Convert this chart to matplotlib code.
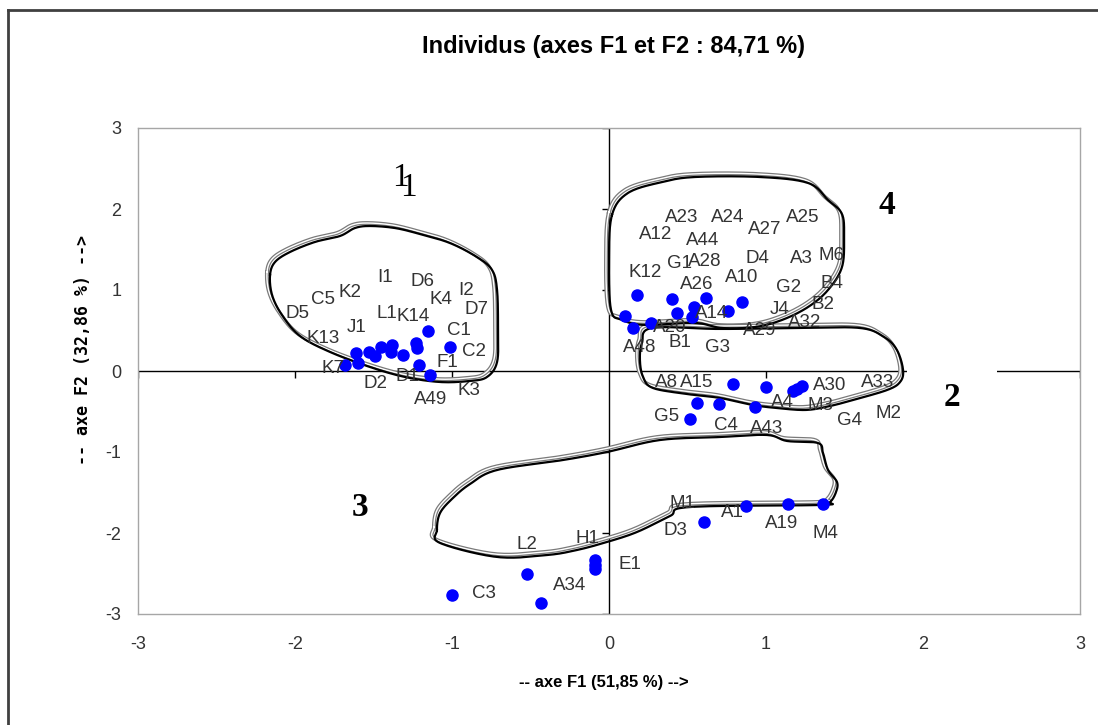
import numpy as np
import matplotlib
matplotlib.use('Agg')
import matplotlib.pyplot as plt
import matplotlib.transforms as mtransforms

plt.rcParams['axes.unicode_minus'] = False

# Scores of the individuals on F1 / F2 (blue dots)
obs_f1 = [-1.68, -1.61, -1.60, -1.53, -1.49, -1.45, -1.39, -1.38, -1.31, -1.23, -1.22, -1.15, -1.01, -1.21, -1.14,
          0.18, 0.10, 0.155, 0.27, 0.40, 0.43, 0.54, 0.53, 0.62, 0.76, 0.845,
          0.79, 1.00, 1.17, 1.20, 1.23, 0.56, 0.70, 0.93, 0.515,
          0.87, 1.14, 1.365, 0.605, -0.09, -0.09, -0.09, -0.52, -1.00, -0.43]
obs_f2 = [0.07, 0.22, 0.10, 0.24, 0.18, 0.30, 0.24, 0.32, 0.20, 0.34, 0.29, 0.49, 0.30, 0.08, -0.05,
          0.94, 0.68, 0.53, 0.59, 0.885, 0.72, 0.79, 0.67, 0.90, 0.745, 0.855,
          -0.16, -0.20, -0.25, -0.22, -0.19, -0.39, -0.41, -0.45, -0.59,
          -1.67, -1.64, -1.64, -1.87, -2.33, -2.40, -2.45, -2.51, -2.77, -2.87]

# Label names and where they sit on the chart (F1, F2)
label_names = ['I1', 'D6', 'I2', 'K2', 'C5', 'K4', 'D7', 'D5', 'L1', 'K14', 'J1', 'C1', 'K13', 'C2', 'F1',
               'K7', 'D1', 'D2', 'K3', 'A49',
               'A23', 'A24', 'A25', 'A27', 'A12', 'A44', 'M6', 'A3', 'D4', 'G1', 'A28', 'K12', 'A10', 'G2',
               'B4', 'A26', 'A14', 'J4', 'B2', 'A32', 'A20', 'A29', 'A48', 'B1', 'G3',
               'A8', 'A15', 'A30', 'A33', 'A4', 'M3', 'G5', 'M2', 'G4', 'C4', 'A43',
               'M1', 'A1', 'A19', 'M4', 'D3', 'H1', 'L2', 'E1', 'A34', 'C3']
label_f1 = [-1.427, -1.185, -0.911, -1.650, -1.822, -1.070, -0.847, -1.981, -1.414, -1.248, -1.605, -0.955,
            -1.822, -0.860, -1.032, -1.758, -1.287, -1.490, -0.892, -1.134,
            0.465, 0.758, 1.236, 0.994, 0.299, 0.599, 1.420, 1.223, 0.943, 0.452, 0.611, 0.229, 0.847, 1.146,
            1.420, 0.561, 0.656, 1.089, 1.363, 1.248, 0.389, 0.962, 0.197, 0.452, 0.694,
            0.369, 0.561, 1.408, 1.713, 1.102, 1.344, 0.369, 1.783, 1.535, 0.745, 1.006,
            0.465, 0.783, 1.102, 1.376, 0.420, -0.140, -0.522, 0.134, -0.248, -0.796]
label_f2 = [1.160, 1.099, 0.988, 0.963, 0.877, 0.877, 0.765, 0.716, 0.716, 0.679, 0.531, 0.494,
            0.407, 0.235, 0.099, 0.037, -0.074, -0.160, -0.235, -0.358,
            1.901, 1.901, 1.901, 1.753, 1.691, 1.605, 1.432, 1.383, 1.383, 1.321, 1.346, 1.210, 1.160, 1.037,
            1.086, 1.062, 0.704, 0.765, 0.815, 0.593, 0.543, 0.506, 0.296, 0.346, 0.296,
            -0.136, -0.136, -0.173, -0.148, -0.383, -0.432, -0.556, -0.519, -0.605, -0.667, -0.704,
            -1.630, -1.753, -1.877, -2.000, -1.963, -2.062, -2.136, -2.395, -2.654, -2.741]

# Hand-drawn group outlines (F1, F2)
group1_f1 = [-2.159, -2.127, -2.032, -1.873, -1.713, -1.618, -1.522, -1.363, -1.204, -1.013, -0.841, -0.745,
             -0.713, -0.707, -0.713, -0.777, -0.885, -1.076, -1.299, -1.522, -1.777, -1.968, -2.083, -2.146]
group1_f2 = [1.185, 1.346, 1.469, 1.593, 1.667, 1.765, 1.790, 1.765, 1.691, 1.580, 1.407, 1.247,
             1.000, 0.506, 0.111, -0.074, -0.123, -0.136, -0.074, 0.049, 0.235, 0.432, 0.691, 0.938]
group4_f1 = [0.019, 0.121, 0.338, 0.548, 0.962, 1.268, 1.395, 1.484, 1.497, 1.484, 1.395, 1.268, 1.102,
             0.930, 0.720, 0.548, 0.229, 0.083, 0.013, 0.000]
group4_f2 = [1.926, 2.198, 2.333, 2.395, 2.395, 2.321, 2.111, 1.938, 1.654, 1.284, 1.000, 0.790, 0.630,
             0.543, 0.531, 0.593, 0.568, 0.630, 0.753, 1.370]
group2_f1 = [0.274, 0.707, 1.217, 1.599, 1.752, 1.834, 1.873, 1.854, 1.771, 1.554, 1.408, 1.255, 1.070,
             0.917, 0.707, 0.497, 0.280, 0.217, 0.197, 0.210]
group2_f2 = [0.531, 0.519, 0.531, 0.531, 0.420, 0.259, 0.012, -0.136, -0.235, -0.358, -0.432, -0.481, -0.457,
             -0.420, -0.333, -0.284, -0.210, -0.074, 0.136, 0.346]
group3_f1 = [-1.096, -1.076, -0.994, -0.885, -0.713, -0.293, -0.013, 0.325, 0.707, 1.006, 1.134, 1.331, 1.363,
             1.395, 1.452, 1.446, 1.408, 1.344, 0.516, 0.389, 0.178, -0.013, -0.204, -0.395, -0.713, -1.076]
group3_f2 = [-1.963, -1.753, -1.568, -1.395, -1.222, -1.099, -1.000, -0.852, -0.815, -0.790, -0.864, -0.889,
             -1.012, -1.222, -1.370, -1.494, -1.617, -1.654, -1.679, -1.790, -1.988, -2.111, -2.210, -2.272,
             -2.296, -2.123]

group_names = ['1', '1', '4', '2', '3']
group_f1 = [-1.331, -1.280, 1.771, 2.185, -1.586]
group_f2 = [2.383, 2.259, 2.049, -0.321, -1.691]

ticks = [-3, -2, -1, 0, 1, 2, 3]

TXT = '#333333'


def closed_curve(xs, ys, n=16):
    """Smooth closed Catmull-Rom curve through the outline vertices."""
    p = np.column_stack([xs, ys])
    k = len(p)
    t = np.linspace(0, 1, n, endpoint=False)[:, None]
    segs = []
    for i in range(k):
        p0, p1, p2, p3 = p[i - 1], p[i], p[(i + 1) % k], p[(i + 2) % k]
        segs.append(0.5 * (2 * p1 + (p2 - p0) * t + (2 * p0 - 5 * p1 + 4 * p2 - p3) * t ** 2
                           + (3 * p1 - p0 - 3 * p2 + p3) * t ** 3))
    out = np.vstack(segs + [segs[0][:1]])
    return out[:, 0], out[:, 1]


fig = plt.figure(figsize=(10.98, 7.25), dpi=100)
ax = fig.add_axes([138 / 1098, 1 - 614 / 725, 942 / 1098, 486 / 725])

ax.set_xlim(-3, 3)
ax.set_ylim(-3, 3)
ax.set_xticks(ticks)
ax.set_yticks(ticks)
ax.tick_params(axis='x', length=0, pad=16, labelsize=13, labelcolor=TXT)
ax.tick_params(axis='y', length=0, pad=12, labelsize=13, labelcolor=TXT)
for lab in ax.get_xticklabels() + ax.get_yticklabels():
    lab.set_family('Liberation Sans')
for sp in ax.spines.values():
    sp.set_color('#a6a6a6')
    sp.set_linewidth(1.0)

# axes through the origin with small ticks
ax.axhline(0, color='black', lw=1.0, zorder=1)
ax.axvline(0, color='black', lw=1.0, zorder=1)
ax.plot([t for t in ticks if t != 0], [0] * 6, ls='none', marker=3, ms=5, color='black', mew=1, zorder=1)
ax.plot([0] * 6, [t for t in ticks if t != 0], ls='none', marker=0, ms=5, color='black', mew=1, zorder=1)

# group outlines (black line with a grey double line slightly shifted)
gray_tr = mtransforms.offset_copy(ax.transData, fig=fig, x=-3, y=3, units='dots')
for gx, gy in [(group1_f1, group1_f2), (group4_f1, group4_f2), (group2_f1, group2_f2), (group3_f1, group3_f2)]:
    sx, sy = closed_curve(gx, gy)
    ax.plot(sx, sy, color='#7a7a7a', lw=2.8, transform=gray_tr, zorder=3, solid_joinstyle='round')
    ax.plot(sx, sy, color='white', lw=1.0, transform=gray_tr, zorder=3)
    ax.plot(sx, sy, color='black', lw=1.6, zorder=4, solid_joinstyle='round')

# individuals
ax.plot(obs_f1, obs_f2, ls='none', marker='o', ms=8, color='#0000ff', zorder=5)

for name, x, y in zip(label_names, label_f1, label_f2):
    ax.text(x, y, name, ha='center', va='center', fontsize=13.5, color=TXT,
            family='Liberation Sans', zorder=6)

# group numbers
for name, x, y in zip(group_names, group_f1, group_f2):
    kw = dict(ha='center', va='center', fontsize=24, color='black', family='Liberation Serif', zorder=2)
    if name in ('4', '2', '3'):
        kw['fontweight'] = 'bold'
    if name == '2':
        kw['bbox'] = dict(boxstyle='square,pad=1.1', facecolor='white', edgecolor='none')
    ax.text(x, y, name, **kw)

# titles
fig.text(614 / 1098, 1 - 47 / 725, 'Individus (axes F1 et F2 : 84,71 %)', ha='center', va='center',
         fontsize=17, fontweight='bold', family='Liberation Sans')
fig.text(604 / 1098, 1 - 683 / 725, '-- axe F1 (51,85 %) -->', ha='center', va='center',
         fontsize=12, fontweight='bold', family='Liberation Sans')
fig.text(83 / 1098, 1 - 350 / 725, '-- axe F2 (32,86 %) -->', ha='center', va='center', rotation=90,
         fontsize=12, fontweight='bold', family='DejaVu Sans Mono')

# frame around the figure
fig.add_artist(plt.Line2D([8 / 1098, 1], [1 - 10 / 725] * 2, transform=fig.transFigure, color='#404040', lw=2))
fig.add_artist(plt.Line2D([8 / 1098] * 2, [0, 1 - 10 / 725], transform=fig.transFigure, color='#404040', lw=2))

fig.savefig('out.png', dpi=100)
